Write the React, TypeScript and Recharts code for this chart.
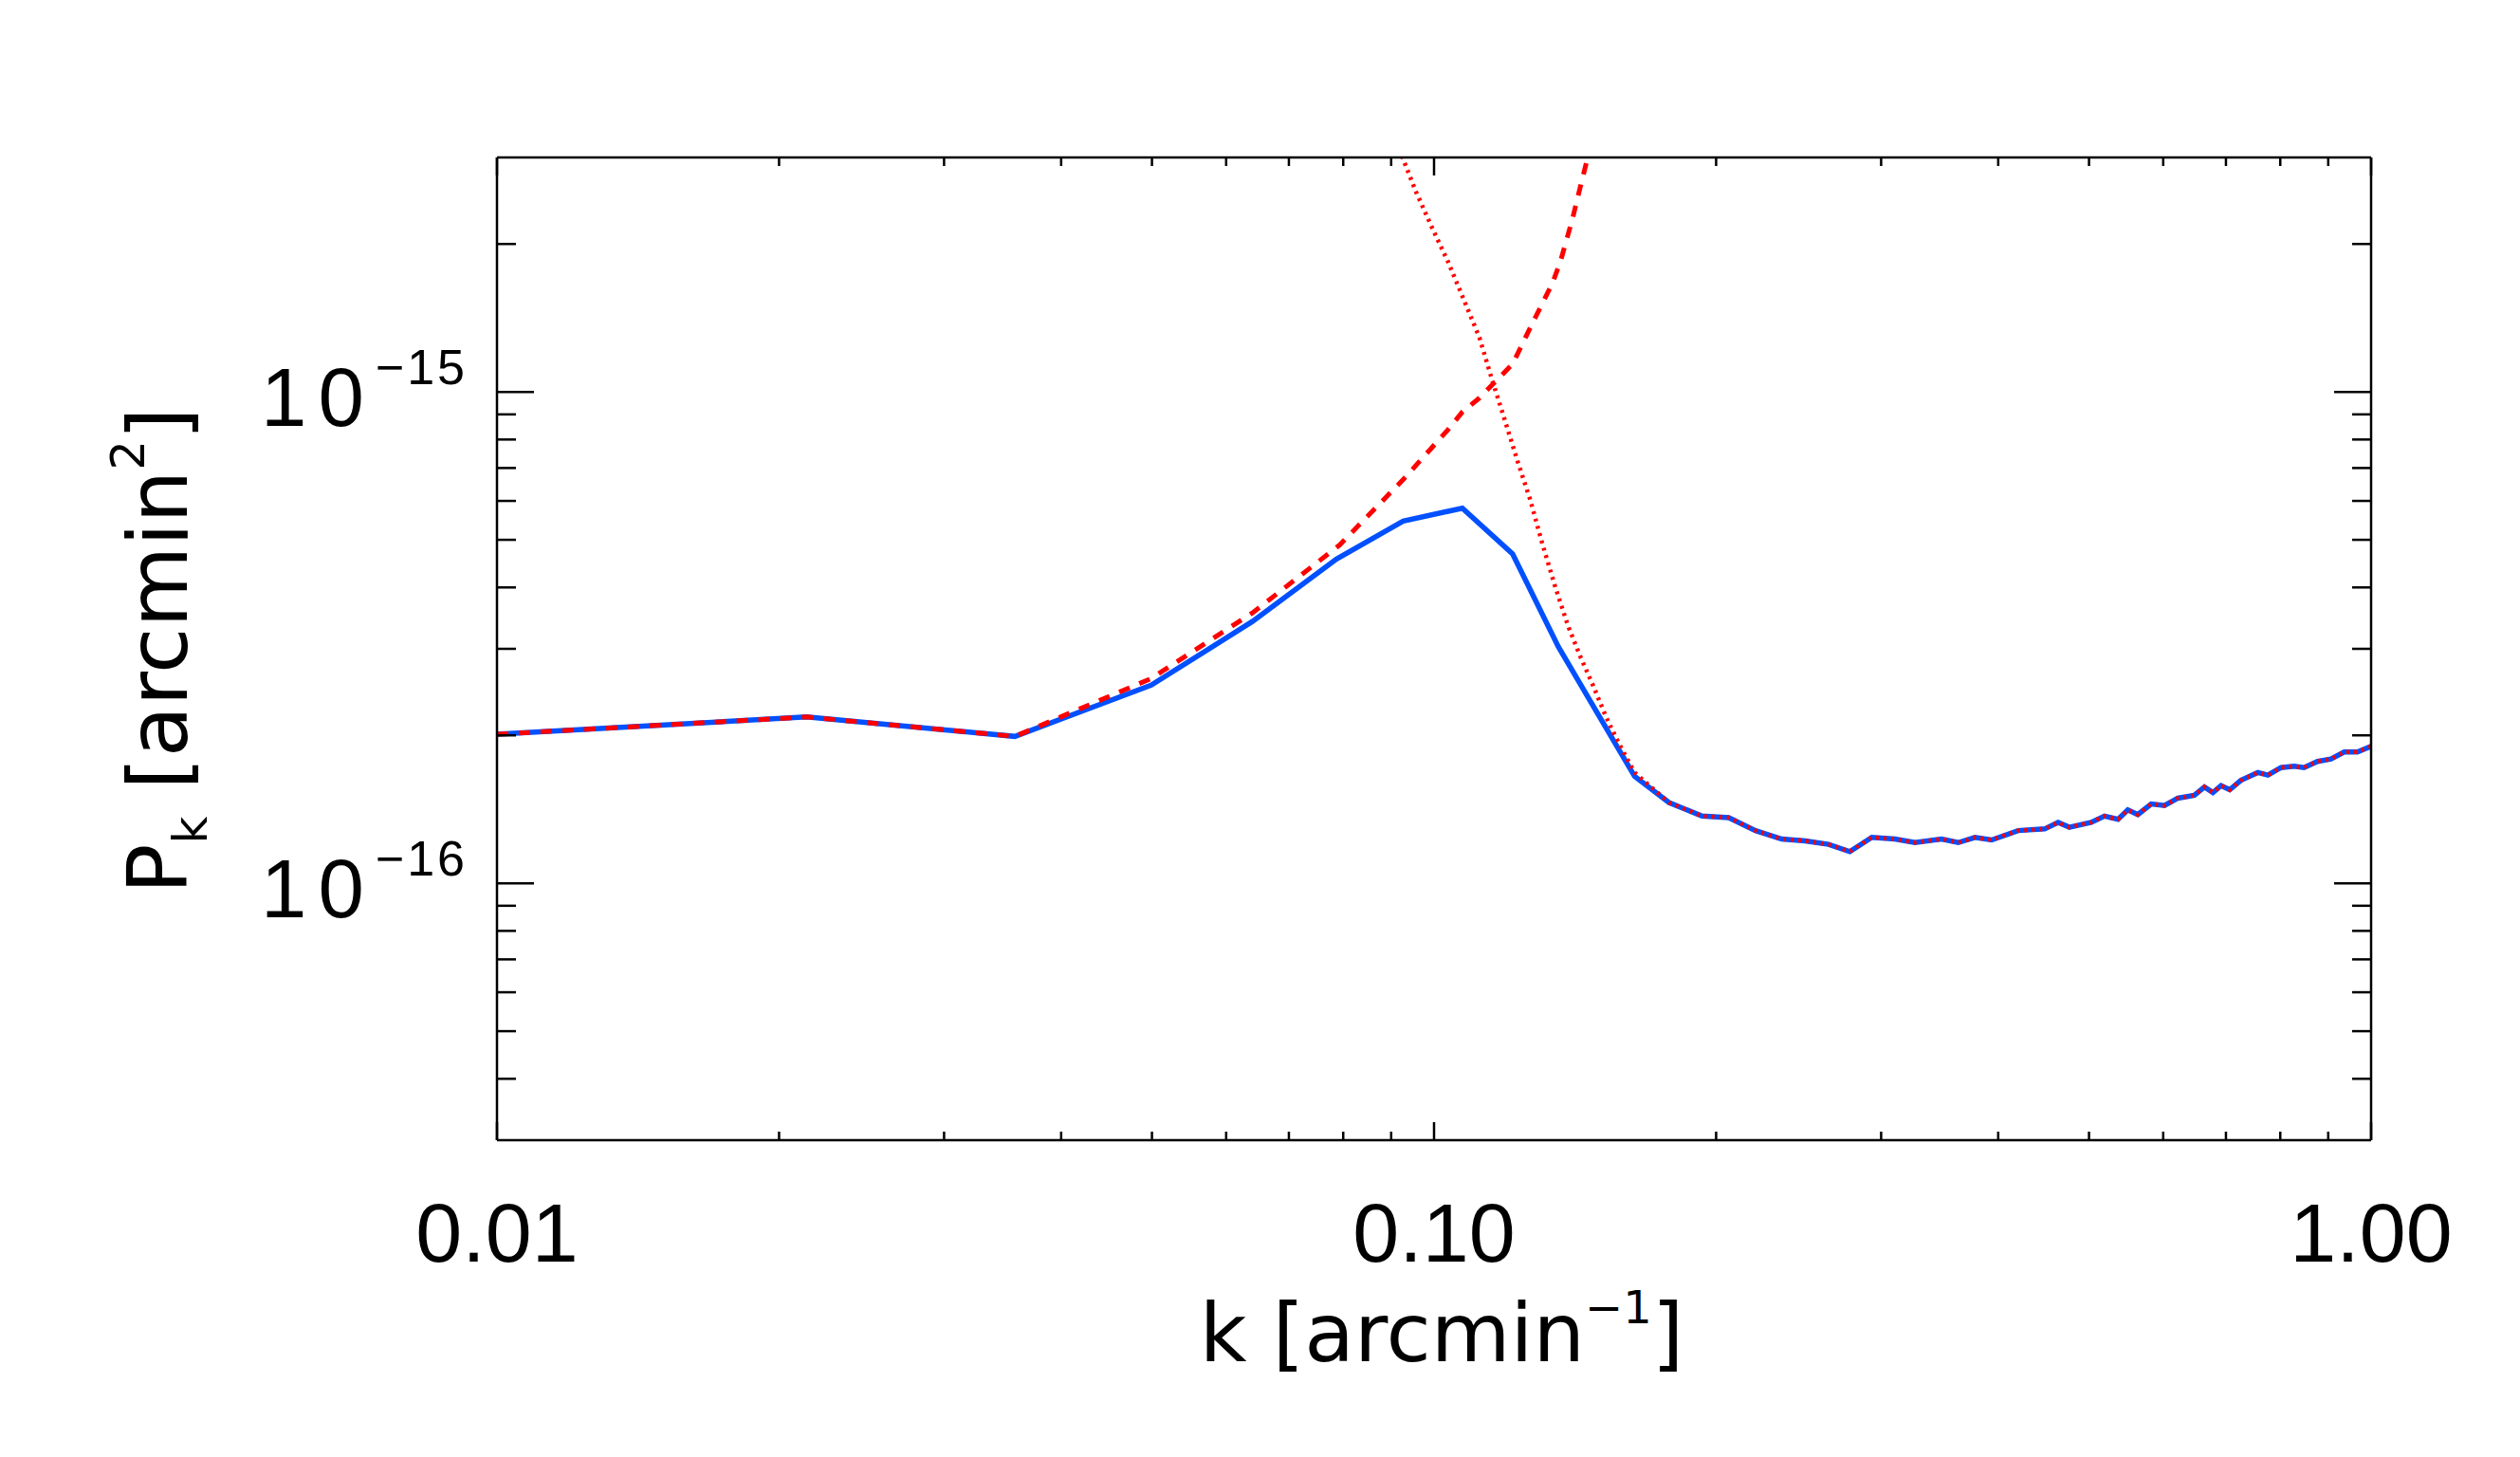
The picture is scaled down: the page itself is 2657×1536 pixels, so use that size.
import React from "react";
import { LineChart, Line, XAxis, YAxis } from "recharts";

// values, P in units of 1e-16 arcmin^2
const UNIT = 1e-16;

const kBlue = [
  0.01, 0.0214, 0.0357, 0.0499, 0.064, 0.0787, 0.0927, 0.1072, 0.1213, 0.1357,
  0.1637, 0.1781, 0.1932, 0.2063, 0.2203, 0.235, 0.249, 0.2636, 0.2778, 0.2932,
  0.3104, 0.326, 0.348, 0.3626, 0.3778, 0.3936, 0.4201, 0.4484, 0.4634, 0.4764,
  0.5028, 0.5194, 0.537, 0.55, 0.5637, 0.5826, 0.602, 0.622, 0.6477, 0.664,
  0.678, 0.6916, 0.7065, 0.7263, 0.757, 0.776, 0.8014, 0.828, 0.848, 0.8767,
  0.906, 0.936, 0.967, 1.0,
];
const pBlue = [
  2.01, 2.18, 1.99, 2.53, 3.41, 4.57, 5.46, 5.8, 4.68, 3.03,
  1.65, 1.46, 1.37, 1.36, 1.28, 1.23, 1.22, 1.2, 1.16, 1.24,
  1.23, 1.21, 1.23, 1.21, 1.24, 1.225, 1.28, 1.29, 1.33, 1.3,
  1.33, 1.37, 1.35, 1.41, 1.38, 1.45, 1.44, 1.49, 1.51, 1.57,
  1.53, 1.58, 1.55, 1.62, 1.68, 1.66, 1.72, 1.73, 1.72, 1.77,
  1.79, 1.85, 1.85, 1.9,
];

// red dashed model
const kDashed = [
  0.01, 0.0214, 0.0357, 0.0499, 0.064, 0.0793, 0.0927, 0.1035, 0.1072, 0.1118,
  0.1213, 0.1276, 0.1337, 0.1364, 0.1385, 0.1406, 0.1435, 0.1462,
];
const pDashed = [
  2.01, 2.18, 1.99, 2.61, 3.55, 4.88, 6.63, 8.38, 9.1, 9.72,
  11.4, 13.9, 16.6, 18.4, 20.4, 22.6, 26.5, 30.5,
];

// red dotted model (joins the measured curve after k ~ 0.17)
const kDotted = [
  0.0924, 0.0957, 0.0995, 0.1035, 0.1076, 0.1118, 0.1153, 0.119, 0.1228, 0.1266,
  0.1306, 0.1348, 0.139, 0.1434, 0.1479, 0.1526, 0.1574, 0.1637,
];
const pDotted = [
  30.2, 25.5, 21.6, 18.4, 15.4, 12.9, 10.6, 8.76, 7.22, 6.05,
  4.88, 3.99, 3.34, 2.88, 2.52, 2.18, 1.93, 1.68,
];

const xMajor = [0.01, 0.1, 1];
const xLabels = ["0.01", "0.10", "1.00"];
const xMinor = [0.02, 0.03, 0.04, 0.05, 0.06, 0.07, 0.08, 0.09, 0.2, 0.3, 0.4, 0.5, 0.6, 0.7, 0.8, 0.9];

const yMajor = [1e-16, 1e-15];
const yExponents = ["\u221216", "\u221215"];
const yMinor = [
  4e-17, 5e-17, 6e-17, 7e-17, 8e-17, 9e-17,
  2e-16, 3e-16, 4e-16, 5e-16, 6e-16, 7e-16, 8e-16, 9e-16,
  2e-15,
];

const blueData = kBlue.map((k, i) => ({ k, p: pBlue[i] * UNIT }));
const dashedData = kDashed.map((k, i) => ({ k, p: pDashed[i] * UNIT }));
const dottedData = [
  ...kDotted.map((k, i) => ({ k, p: pDotted[i] * UNIT })),
  ...blueData.filter((d) => d.k > 0.17),
];

const W = 2657;
const H = 1536;
const TICK_FONT = "'Liberation Sans', Arial, sans-serif";
const TITLE_FONT = "'DejaVu Sans', 'Liberation Sans', sans-serif";

const majorIndex = (list: number[], v: number) =>
  list.findIndex((m) => Math.abs(m - v) / m < 1e-6);

function XTick(props: any) {
  const { x, y, payload, side } = props;
  const idx = majorIndex(xMajor, payload.value);
  const len = idx >= 0 ? 19 : 9;
  const dir = side === "bottom" ? -1 : 1;
  return (
    <g>
      <line x1={x} x2={x} y1={y} y2={y + dir * len} stroke="#000" strokeWidth={2.5} />
      {side === "bottom" && idx >= 0 && (
        <text x={x} y={y + 128} textAnchor="middle" fontSize={88} fontFamily={TICK_FONT} fill="#000">
          {xLabels[idx]}
        </text>
      )}
    </g>
  );
}

function YTick(props: any) {
  const { x, y, payload, side } = props;
  const idx = majorIndex(yMajor, payload.value);
  const len = idx >= 0 ? 39 : 20;
  const dir = side === "left" ? 1 : -1;
  return (
    <g>
      <line x1={x} x2={x + dir * len} y1={y} y2={y} stroke="#000" strokeWidth={2.5} />
      {side === "left" && idx >= 0 && (
        <text x={x - 31} y={y + 36} textAnchor="end" fontSize={87} fontFamily={TICK_FONT} fill="#000">
          <tspan letterSpacing={12}>10</tspan>
          <tspan dy={-44} fontSize={52} letterSpacing={3}>{yExponents[idx]}</tspan>
        </text>
      )}
    </g>
  );
}

export default function App() {
  const xTicks = [...xMajor, ...xMinor];
  const yTicks = [...yMajor, ...yMinor];

  return (
    <div style={{ position: "absolute", left: 0, top: 0, width: W, height: H, background: "#fff" }}>
      <LineChart width={W} height={H} margin={{ top: 165, right: 156, bottom: 0, left: 0 }}>
        <XAxis
          dataKey="k"
          type="number"
          scale="log"
          domain={[0.01, 1]}
          allowDataOverflow
          ticks={xTicks}
          interval={0}
          tickSize={0}
          tickMargin={0}
          tickLine={false}
          height={334}
          axisLine={{ stroke: "#000", strokeWidth: 2.5 }}
          tick={(p: any) => <XTick {...p} side="bottom" />}
        />
        <XAxis
          xAxisId="top"
          orientation="top"
          dataKey="k"
          type="number"
          scale="log"
          domain={[0.01, 1]}
          allowDataOverflow
          ticks={xTicks}
          interval={0}
          tickSize={0}
          tickMargin={0}
          tickLine={false}
          height={1}
          axisLine={{ stroke: "#000", strokeWidth: 2.5 }}
          tick={(p: any) => <XTick {...p} side="top" />}
        />
        <YAxis
          type="number"
          scale="log"
          domain={[3e-17, 3e-15]}
          allowDataOverflow
          ticks={yTicks}
          interval={0}
          tickSize={0}
          tickMargin={0}
          tickLine={false}
          width={524}
          axisLine={{ stroke: "#000", strokeWidth: 2.5 }}
          tick={(p: any) => <YTick {...p} side="left" />}
        />
        <YAxis
          yAxisId="right"
          orientation="right"
          type="number"
          scale="log"
          domain={[3e-17, 3e-15]}
          allowDataOverflow
          ticks={yTicks}
          interval={0}
          tickSize={0}
          tickMargin={0}
          tickLine={false}
          width={1}
          axisLine={{ stroke: "#000", strokeWidth: 2.5 }}
          tick={(p: any) => <YTick {...p} side="right" />}
        />
        {/* invisible series so the mirrored top/right axes get drawn */}
        <Line
          xAxisId="top"
          yAxisId="right"
          data={blueData}
          dataKey="p"
          stroke="none"
          dot={false}
          legendType="none"
          isAnimationActive={false}
        />
        <Line
          data={blueData}
          dataKey="p"
          type="linear"
          stroke="#0050ff"
          strokeWidth={5.5}
          dot={false}
          isAnimationActive={false}
        />
        <Line
          data={dashedData}
          dataKey="p"
          type="linear"
          stroke="#ff0000"
          strokeWidth={5}
          strokeDasharray="12 11"
          dot={false}
          isAnimationActive={false}
        />
        <Line
          data={dottedData}
          dataKey="p"
          type="linear"
          stroke="#ff0000"
          strokeWidth={4.5}
          strokeDasharray="3 5"
          dot={false}
          isAnimationActive={false}
        />
      </LineChart>

      {/* axis titles */}
      <svg width={W} height={H} style={{ position: "absolute", left: 0, top: 0, pointerEvents: "none" }}>
        <text x={1520} y={1435} textAnchor="middle" fontSize={86} fontFamily={TITLE_FONT} fill="#000">
          <tspan>k [arcmin</tspan>
          <tspan dy={-40} fontSize={48}>{"\u22121"}</tspan>
          <tspan dy={40}>]</tspan>
        </text>
        <text
          transform="translate(197,686) rotate(-90)"
          x={0}
          y={0}
          textAnchor="middle"
          fontSize={88}
          fontFamily={TITLE_FONT}
          fill="#000"
        >
          <tspan>P</tspan>
          <tspan dy={21} fontSize={50}>k</tspan>
          <tspan dy={-21}> [arcmin</tspan>
          <tspan dy={-45} fontSize={50}>2</tspan>
          <tspan dy={45}>]</tspan>
        </text>
      </svg>
    </div>
  );
}
